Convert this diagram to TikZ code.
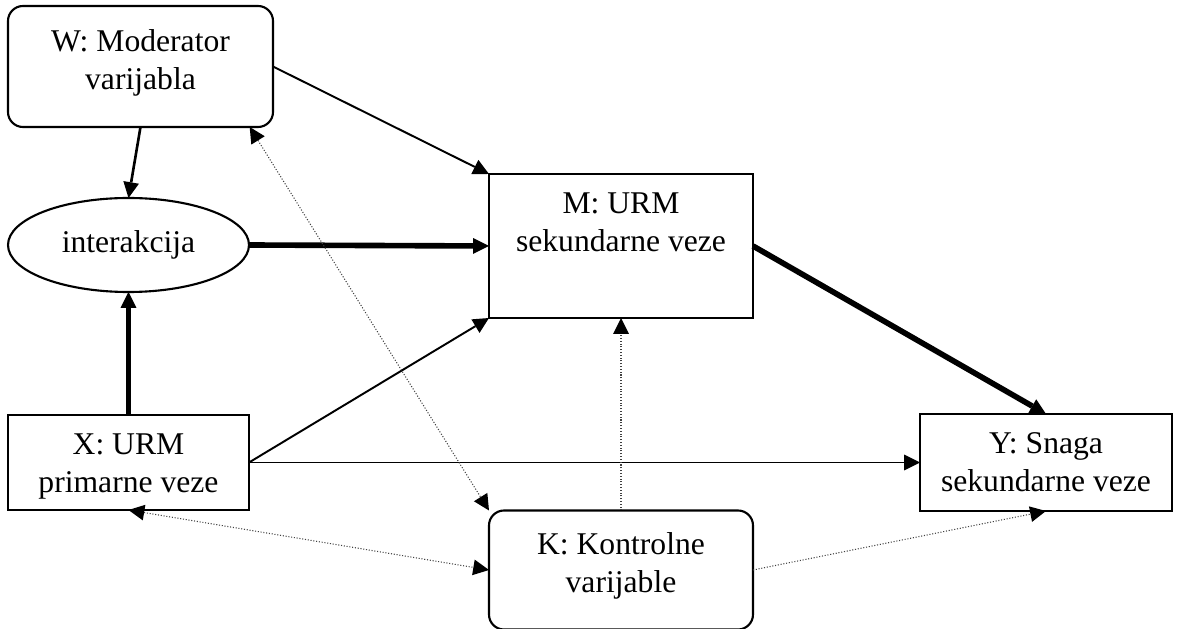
\documentclass[tikz,border=0pt]{standalone}
\usepackage{fontspec}
\setmainfont{Liberation Serif}
\usetikzlibrary{arrows.meta,positioning,shapes.geometric}

\begin{document}
\begin{tikzpicture}[font=\fontsize{18pt}{21.6pt}\selectfont,
  every node/.style={outer sep=0pt, inner sep=0pt},
  >={Triangle[length=9pt,width=9pt,line width=0pt,color=black]},
  sqbox/.style={draw, line width=1.2pt},
  rbox/.style={draw, line width=1.2pt, rounded corners=0.3cm},
  lbl/.style={align=center},
  thinarr/.style={->, line width=1.1pt},
  midarr/.style={->, line width=1.5pt},
  thickarr/.style={->, line width=3.2pt},
  dotarr/.style={line width=0.6pt, black!75, densely dotted}]
\useasboundingbox (0,0) rectangle (23.6,12.58);

\node[rbox, minimum width=5.3cm, minimum height=2.42cm] (W) at (2.81,11.25) {};
\node[lbl, below=0.48cm of W.north] (Wlbl) {W: Moderator\\varijabla};
\node[draw, ellipse, line width=1.2pt, minimum width=4.82cm, minimum height=1.88cm] (int) at (2.57,7.68) {interakcija};
\node[sqbox, minimum width=5.28cm, minimum height=2.88cm] (M) at (12.42,7.66) {};
\node[lbl, below=0.38cm of M.north] (Mlbl) {M: URM\\sekundarne veze};
\node[sqbox, minimum width=4.82cm, minimum height=1.9cm] (X) at (2.57,3.33) {};
\node[lbl, below=0.37cm of X.north] (Xlbl) {X: URM\\primarne veze};
\node[sqbox, minimum width=5.04cm, minimum height=1.94cm] (Y) at (20.92,3.33) {};
\node[lbl, below=0.38cm of Y.north] (Ylbl) {Y: Snaga\\sekundarne veze};
\node[rbox, minimum width=5.28cm, minimum height=2.38cm] (K) at (12.42,1.18) {};
\node[lbl, below=0.44cm of K.north] (Klbl) {K: Kontrolne\\varijable};

\draw[thinarr] (W.east) -- (M.north west);
\draw[midarr] (W.south) -- (int.north);
\draw[thickarr] (int.east) -- (M.west);
\draw[thickarr] (X.north) -- (int.south);
\draw[thinarr] (X.east) -- (M.south west);
\draw[thinarr] (X.east) -- (Y.west);
\draw[thickarr] (M.east) -- (Y.north);

\draw[dotarr, <->] (W.-29) -- (K.north west);
\draw[dotarr, ->] (K.north) -- (M.south);
\draw[dotarr, <->] (X.south) -- (K.west);
\draw[dotarr, ->] (K.east) -- (Y.south);
\end{tikzpicture}
\end{document}
